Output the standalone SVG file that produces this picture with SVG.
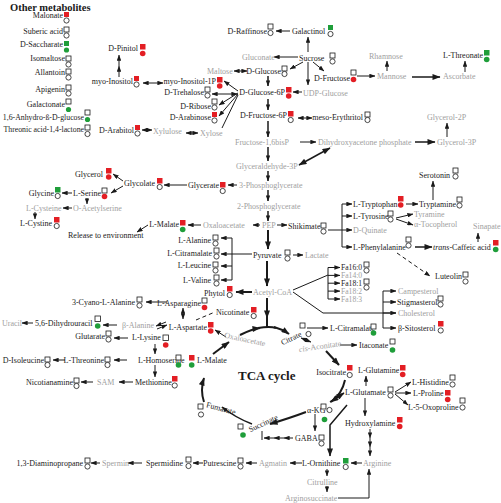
<svg xmlns="http://www.w3.org/2000/svg" width="501" height="503" viewBox="0 0 501 503">
<style>
text{font-family:"Liberation Serif","Times New Roman",serif;font-size:8px;fill:#1a1a1a}
.e{text-anchor:end}
.gy{fill:#a0a0a0}
.fa{font-size:7.6px}
.sq{fill:#fff;stroke:#1a1a1a;stroke-width:0.8}
.ci{fill:#fff;stroke:#1a1a1a;stroke-width:0.8}
.R{fill:#e31e24;stroke:none}
.G{fill:#1f9e3a;stroke:none}
.ln{stroke:#1a1a1a;stroke-width:1;fill:none}
.th{stroke-width:2}
.md{stroke-width:1.5}
.ds{stroke-dasharray:4 3}
.a{marker-end:url(#ah)}
.aa{marker-start:url(#ah);marker-end:url(#ah)}
.A{marker-end:url(#AH)}
.AA{marker-start:url(#AH);marker-end:url(#AH)}
</style>
<defs>
<marker id="ah" viewBox="0 0 8 6" refX="7.5" refY="3" markerWidth="6" markerHeight="4.5" markerUnits="userSpaceOnUse" orient="auto-start-reverse"><path d="M0,0 L8,3 L0,6 z" fill="#1a1a1a"/></marker>
<marker id="AH" viewBox="0 0 8 6" refX="7.5" refY="3" markerWidth="9" markerHeight="6" markerUnits="userSpaceOnUse" orient="auto-start-reverse"><path d="M0,0 L8,3 L0,6 z" fill="#1a1a1a"/></marker>
</defs>
<rect width="501" height="503" fill="#fff"/>

<text x="10" y="10.5" style="font-weight:bold;font-size:10.5px">Other metabolites</text>

<g id="connectors">
<line class="ln a" x1="290" y1="31" x2="276" y2="31"/>
<line class="ln a" x1="308" y1="52" x2="308" y2="37"/>
<line class="ln a" x1="298" y1="57" x2="274" y2="57"/>
<line class="ln aa" x1="234" y1="71" x2="247" y2="71"/>
<line class="ln a" x1="303" y1="62" x2="290" y2="69"/>
<line class="ln a" x1="308" y1="62" x2="308" y2="85"/>
<line class="ln a" x1="313" y1="62" x2="324" y2="71"/>
<line class="ln a" x1="302" y1="92" x2="293" y2="92"/>
<line class="ln md a" x1="268" y1="76" x2="268" y2="86"/>
<line class="ln md a" x1="268" y1="99" x2="268" y2="110"/>
<line class="ln md a" x1="268" y1="121" x2="268" y2="137"/>
<line class="ln aa" x1="298" y1="118" x2="312" y2="118"/>
<line class="ln a" x1="357" y1="76" x2="375" y2="76"/>
<line class="ln a" x1="387" y1="71" x2="387" y2="61"/>
<line class="ln md A" x1="412" y1="77" x2="440" y2="77"/>
<line class="ln a" x1="465" y1="72" x2="465" y2="61"/>
<line class="ln a" x1="238" y1="91" x2="224" y2="81"/>
<line class="ln aa" x1="237" y1="94" x2="212" y2="94"/>
<line class="ln a" x1="238" y1="93" x2="219" y2="105"/>
<line class="ln a" x1="238" y1="94" x2="219" y2="116"/>
<line class="ln" x1="238" y1="95" x2="222" y2="128"/>
<line class="ln aa" x1="143" y1="83" x2="163" y2="83"/>
<line class="ln a" x1="119" y1="77" x2="119" y2="66"/>
<line class="ln a" x1="119" y1="66" x2="119" y2="55"/>
<line class="ln aa" x1="142" y1="130" x2="152" y2="130"/>
<line class="ln aa" x1="186" y1="133" x2="198" y2="133"/>
<line class="ln md a" x1="268" y1="147" x2="268" y2="161"/>
<line class="ln a" x1="300" y1="142" x2="316" y2="142"/>
<line class="ln md AA" x1="299" y1="165" x2="330" y2="148"/>
<line class="ln md A" x1="415" y1="142" x2="435" y2="142"/>
<line class="ln a" x1="447" y1="137" x2="447" y2="123"/>
<line class="ln md a" x1="268" y1="171" x2="268" y2="181"/>
<line class="ln a" x1="237" y1="185" x2="228" y2="185"/>
<line class="ln a" x1="187" y1="185" x2="164" y2="185"/>
<line class="ln a" x1="123" y1="181" x2="113" y2="174"/>
<line class="ln a" x1="123" y1="186" x2="111" y2="193"/>
<line class="ln a" x1="72" y1="193" x2="62" y2="193"/>
<line class="ln a" x1="87" y1="198" x2="87" y2="204"/>
<line class="ln a" x1="72" y1="208" x2="63" y2="208"/>
<line class="ln a" x1="35" y1="212" x2="35" y2="219"/>
<line class="ln md a" x1="268" y1="190" x2="268" y2="201"/>
<line class="ln md a" x1="268" y1="211" x2="268" y2="221"/>
<line class="ln a" x1="260" y1="225" x2="253" y2="225"/>
<line class="ln a" x1="201" y1="225" x2="188" y2="225"/>
<line class="ln a" x1="148" y1="225" x2="137" y2="232"/>
<line class="ln a" x1="277" y1="225" x2="287" y2="225"/>
<path class="ln" d="M328,230 H342 M342,204 V247"/>
<line class="ln a" x1="342" y1="204" x2="352" y2="204"/>
<line class="ln a" x1="342" y1="216" x2="352" y2="216"/>
<line class="ln a" x1="342" y1="230" x2="352" y2="230"/>
<line class="ln a" x1="342" y1="247" x2="352" y2="247"/>
<line class="ln a" x1="406" y1="204" x2="418" y2="204"/>
<line class="ln a" x1="433" y1="200" x2="433" y2="181"/>
<line class="ln a" x1="396" y1="218" x2="413" y2="214"/>
<line class="ln a" x1="396" y1="219" x2="413" y2="225"/>
<line class="ln md A" x1="415" y1="247" x2="432" y2="247"/>
<line class="ln a" x1="478" y1="242" x2="478" y2="233"/>
<line class="ln ds a" x1="397" y1="253" x2="430" y2="276"/>
<line class="ln th A" x1="268" y1="230" x2="268" y2="249"/>
<line class="ln a" x1="293" y1="255" x2="303" y2="255"/>
<line class="ln a" x1="252" y1="254" x2="221" y2="254"/>
<path class="ln" d="M232,238 V280"/>
<line class="ln a" x1="232" y1="238" x2="221" y2="238"/>
<line class="ln a" x1="232" y1="266" x2="221" y2="266"/>
<line class="ln a" x1="232" y1="280" x2="221" y2="280"/>
<line class="ln th A" x1="267" y1="261" x2="267" y2="286"/>
<line class="ln th A" x1="252" y1="292" x2="236" y2="292"/>
<path class="ln" d="M293,290 L328,275 M328,267.5 V299 M293,292 L323,313 H396 M383,291 V328"/>
<line class="ln a" x1="328" y1="267.5" x2="340" y2="267.5"/>
<line class="ln a" x1="328" y1="275.4" x2="340" y2="275.4"/>
<line class="ln a" x1="328" y1="283.2" x2="340" y2="283.2"/>
<line class="ln a" x1="328" y1="291.1" x2="340" y2="291.1"/>
<line class="ln a" x1="328" y1="299" x2="340" y2="299"/>
<line class="ln a" x1="383" y1="291" x2="396" y2="291"/>
<line class="ln a" x1="383" y1="302" x2="396" y2="302"/>
<line class="ln a" x1="383" y1="313" x2="396" y2="313"/>
<line class="ln a" x1="383" y1="328" x2="396" y2="328"/>
<line class="ln th A" x1="267" y1="298" x2="267" y2="318"/>
<line class="ln th" x1="267" y1="315" x2="267" y2="327"/>
<path class="ln th A" d="M240,335 Q252,329 260,328"/>
<path class="ln th" d="M258,328 Q270,326 276,328"/>
<path class="ln th A" d="M274,327 Q282,329 289,334"/>
<line class="ln a" x1="307" y1="328" x2="328" y2="328"/>
<line class="ln aa" x1="301" y1="338" x2="311" y2="342"/>
<line class="ln a" x1="340" y1="345" x2="357" y2="345"/>
<line class="ln th A" x1="326" y1="351" x2="339" y2="365"/>
<path class="ln th A" d="M345,380 Q342,394 331,402"/>
<path class="ln th A" d="M306,412 Q290,418 270,424"/>
<path class="ln md a" d="M252,424 Q236,418 222,407"/>
<path class="ln th A" d="M204,402 Q200,390 204,378"/>
<line class="ln th A" x1="213" y1="354" x2="229" y2="342"/>
<line class="ln a" x1="226" y1="337" x2="215" y2="330"/>
<line class="ln aa" x1="183" y1="308" x2="183" y2="319"/>
<line class="ln a" x1="167" y1="302" x2="146" y2="302"/>
<line class="ln ds" x1="196" y1="320" x2="215" y2="312"/>
<line class="ln a" x1="166" y1="322" x2="156" y2="326"/>
<line class="ln a" x1="157" y1="329" x2="167" y2="325"/>
<line class="ln a" x1="117" y1="325" x2="103" y2="325"/>
<line class="ln a" x1="33" y1="323" x2="22" y2="323"/>
<line class="ln a" x1="128" y1="338" x2="114" y2="338"/>
<line class="ln a" x1="155" y1="344" x2="155" y2="354"/>
<line class="ln a" x1="127" y1="360" x2="114" y2="360"/>
<line class="ln a" x1="65" y1="360" x2="53" y2="360"/>
<line class="ln a" x1="155" y1="365" x2="155" y2="377"/>
<line class="ln a" x1="133" y1="382" x2="119" y2="382"/>
<line class="ln a" x1="93" y1="382" x2="81" y2="382"/>
<line class="ln md A" x1="330" y1="402" x2="344" y2="393"/>
<line class="ln a" x1="366" y1="386" x2="366" y2="376"/>
<line class="ln a" x1="395" y1="392" x2="411" y2="382"/>
<line class="ln a" x1="395" y1="393" x2="411" y2="393"/>
<line class="ln a" x1="395" y1="394" x2="408" y2="405"/>
<line class="ln a" x1="365" y1="398" x2="365" y2="416"/>
<line class="ln a" x1="370" y1="429" x2="370" y2="438"/>
<line class="ln a" x1="370" y1="438" x2="370" y2="447"/>
<line class="ln a" x1="370" y1="447" x2="370" y2="456"/>
<line class="ln a" x1="362" y1="463" x2="351" y2="463"/>
<path class="ln md A" d="M347,405 L330,425 V456"/>
<line class="ln a" x1="315" y1="414" x2="315" y2="431"/>
<line class="ln a" x1="293" y1="438" x2="284" y2="438"/>
<line class="ln a" x1="284" y1="438" x2="274" y2="438"/>
<line class="ln a" x1="274" y1="438" x2="264" y2="438"/>
<line class="ln" x1="262" y1="440" x2="262" y2="431"/>
<line class="ln a" x1="302" y1="463" x2="290" y2="463"/>
<line class="ln a" x1="257" y1="463" x2="246" y2="463"/>
<line class="ln a" x1="203" y1="463" x2="193" y2="463"/>
<line class="ln a" x1="142" y1="463" x2="128" y2="463"/>
<line class="ln a" x1="100" y1="463" x2="91" y2="463"/>
<line class="ln a" x1="327" y1="469" x2="327" y2="476"/>
<line class="ln a" x1="327" y1="486" x2="327" y2="492"/>
<path class="ln a" d="M338,498 H369 V469"/>
</g>

<g id="n-malonate"><text class="e" x="63" y="18">Malonate</text><rect class="sq R" x="64" y="12" width="5" height="5"/><circle class="ci" cx="66.5" cy="20.5" r="2.6"/></g>
<g id="n-suberic"><text class="e" x="63" y="34">Suberic acid</text><rect class="sq" x="64" y="27" width="5" height="5"/><circle class="ci" cx="66.5" cy="35.5" r="2.6"/></g>
<g id="n-saccharate"><text class="e" x="63" y="47">D-Saccharate</text><rect class="sq G" x="64" y="41" width="5" height="5"/><circle class="ci G" cx="66.5" cy="50" r="2.6"/></g>
<g id="n-isomaltose"><text class="e" x="65" y="61">Isomaltose</text><rect class="sq" x="66" y="56" width="5" height="5"/><circle class="ci" cx="68.5" cy="64.5" r="2.6"/></g>
<g id="n-allantoin"><text class="e" x="65" y="75">Allantoin</text><rect class="sq" x="66" y="69" width="5" height="5"/><circle class="ci" cx="68.5" cy="77.5" r="2.6"/></g>
<g id="n-apigenin"><text class="e" x="65" y="92">Apigenin</text><rect class="sq" x="66" y="85" width="5" height="5"/><circle class="ci" cx="68.5" cy="93.5" r="2.6"/></g>
<g id="n-galactonate"><text class="e" x="65" y="107">Galactonate</text><rect class="sq" x="66" y="99" width="5" height="5"/><circle class="ci G" cx="68.5" cy="109.5" r="2.6"/></g>
<g id="n-anhydro"><text class="e" x="84" y="120" style="font-size:7.8px">1,6-Anhydro-ß-D-glucose</text><rect class="sq" x="85" y="110" width="5" height="5"/><circle class="ci G" cx="87.5" cy="119.5" r="2.6"/></g>
<g id="n-threonic"><text class="e" x="84" y="132" style="font-size:7.8px">Threonic acid-1,4-lactone</text><rect class="sq" x="85" y="125" width="5" height="5"/><circle class="ci" cx="87.5" cy="134" r="2.6"/></g>

<g id="n-pinitol"><text class="e" x="138" y="51">D-Pinitol</text><rect class="sq R" x="140" y="44" width="5.5" height="5.5"/><circle class="ci R" cx="142.7" cy="53.5" r="2.8"/></g>
<g id="n-myoinositol"><text class="e" x="133" y="84">myo-Inositol</text><rect class="sq R" x="134" y="76" width="5" height="5"/><circle class="ci" cx="136.5" cy="84.5" r="2.6"/></g>
<g id="n-myoinositol1p"><text class="e" x="216" y="84">myo-Inositol-1P</text><rect class="sq R" x="217" y="77" width="5.5" height="5.5"/><circle class="ci R" cx="219.7" cy="86" r="2.8"/></g>
<g id="n-trehalose"><text class="e" x="204" y="95">D-Trehalose</text><rect class="sq" x="205" y="87" width="5" height="5"/><circle class="ci" cx="207.5" cy="95.5" r="2.6"/></g>
<g id="n-ribose"><text class="e" x="211" y="109">D-Ribose</text><rect class="sq" x="212" y="99" width="5" height="5"/><circle class="ci" cx="214.5" cy="107.5" r="2.6"/></g>
<g id="n-arabinose"><text class="e" x="211" y="120">D-Arabinose</text><rect class="sq R" x="212" y="112" width="5" height="5"/><circle class="ci" cx="214.5" cy="120.5" r="2.6"/></g>
<g id="n-arabitol"><text class="e" x="134" y="133">D-Arabitol</text><rect class="sq R" x="135" y="125" width="5" height="5"/><circle class="ci" cx="137.5" cy="133.5" r="2.6"/></g>
<g id="n-xylulose"><text class="gy" x="153" y="134">Xylulose</text></g>
<g id="n-xylose"><text class="gy" x="200" y="136">Xylose</text></g>
<g id="n-g6p"><text class="e" x="285" y="95">D-Glucose-6P</text><rect class="sq R" x="286" y="87" width="5.5" height="5.5"/><circle class="ci R" cx="288.7" cy="96" r="2.8"/></g>
<g id="n-f6p"><text class="e" x="287" y="118">D-Fructose-6P</text><rect class="sq R" x="288" y="111" width="5.5" height="5.5"/><circle class="ci" cx="290.7" cy="120" r="2.6"/></g>
<g id="n-erythritol"><text class="e" x="363" y="120">meso-Erythritol</text><rect class="sq" x="365" y="112" width="5" height="5"/><circle class="ci" cx="367.5" cy="120" r="2.6"/></g>
<g id="n-glucose"><text class="e" x="281" y="74">D-Glucose</text><rect class="sq" x="282" y="66" width="5" height="5"/><circle class="ci" cx="284.5" cy="74" r="2.6"/></g>
<g id="n-maltose"><text class="gy" x="207" y="74">Maltose</text></g>
<g id="n-raffinose"><text class="e" x="267" y="34">D-Raffinose</text><rect class="sq" x="268" y="24" width="5" height="5"/><circle class="ci" cx="270.5" cy="33" r="2.6"/></g>
<g id="n-galactinol"><text x="292" y="34">Galactinol</text><rect class="sq G" x="328" y="25" width="5" height="5"/><circle class="ci" cx="330.5" cy="34" r="2.6"/></g>
<g id="n-gluconate"><text class="gy" x="242" y="60">Gluconate</text></g>
<g id="n-sucrose"><text x="299" y="61">Sucrose</text><rect class="sq" x="330" y="53" width="5" height="5"/><circle class="ci" cx="332.5" cy="61.5" r="2.6"/></g>
<g id="n-udpg"><text class="gy" x="303" y="96">UDP-Glucose</text></g>
<g id="n-fructose"><text class="e" x="350" y="81">D-Fructose</text><rect class="sq" x="351" y="70" width="5" height="5"/><circle class="ci R" cx="353.5" cy="79.5" r="2.8"/></g>
<g id="n-rhamnose"><text class="gy" x="369" y="59">Rhamnose</text></g>
<g id="n-mannose"><text class="gy" x="377" y="79">Mannose</text></g>
<g id="n-ascorbate"><text class="gy" x="443" y="79">Ascorbate</text></g>
<g id="n-threonate"><text class="e" x="483" y="58">L-Threonate</text><rect class="sq G" x="484" y="50" width="5.5" height="5.5"/><circle class="ci G" cx="486.7" cy="59.5" r="2.8"/></g>
<g id="n-f16bp"><text class="gy" x="235" y="145">Fructose-1,6bisP</text></g>
<g id="n-dhap"><text class="gy" x="318" y="145">Dihydroxyacetone phosphate</text></g>
<g id="n-glycerol3p"><text class="gy" x="437" y="145">Glycerol-3P</text></g>
<g id="n-glycerol2p"><text class="gy" x="427" y="120">Glycerol-2P</text></g>
<g id="n-gap"><text class="gy" x="236" y="169">Glyceraldehyde-3P</text></g>
<g id="n-3pg"><text class="gy" x="239" y="188">3-Phosphoglycerate</text></g>
<g id="n-glycerate"><text class="e" x="219" y="188">Glycerate</text><rect class="sq R" x="220" y="182" width="5.5" height="5.5"/><circle class="ci" cx="222.7" cy="191" r="2.6"/></g>
<g id="n-glycolate"><text class="e" x="155" y="186">Glycolate</text><rect class="sq R" x="157" y="178" width="5.5" height="5.5"/><circle class="ci" cx="159.7" cy="187" r="2.6"/></g>
<g id="n-glycerol"><text class="e" x="103" y="177">Glycerol</text><rect class="sq R" x="106" y="168" width="5.5" height="5.5"/><circle class="ci R" cx="108.7" cy="177" r="2.8"/></g>
<g id="n-serine"><text class="e" x="101" y="196">L-Serine</text><rect class="sq" x="102" y="188" width="5" height="5"/><circle class="ci R" cx="104.5" cy="196.5" r="2.8"/></g>
<g id="n-glycine"><text class="e" x="54" y="196">Glycine</text><rect class="sq G" x="55" y="187" width="5.5" height="5.5"/><circle class="ci" cx="57.7" cy="196" r="2.6"/></g>
<g id="n-cysteine"><text class="gy" x="26" y="211">L-Cysteine</text></g>
<g id="n-oacetylserine"><text class="gy" x="73" y="211">O-Acetylserine</text></g>
<g id="n-cystine"><text class="e" x="52" y="226">L-Cystine</text><rect class="sq R" x="54" y="217" width="5.5" height="5.5"/><circle class="ci" cx="56.7" cy="226" r="2.6"/></g>
<g id="n-malate1"><text class="e" x="179" y="227">L-Malate</text><rect class="sq R" x="180" y="220" width="5.5" height="5.5"/><circle class="ci G" cx="182.7" cy="229.5" r="2.8"/></g>
<g id="n-release"><text x="68" y="238">Release to environment</text></g>
<g id="n-oaa1"><text class="gy" x="203" y="228">Oxaloacetate</text></g>
<g id="n-pep"><text class="gy" x="262" y="228">PEP</text></g>
<g id="n-2pg"><text class="gy" x="237" y="209">2-Phosphoglycerate</text></g>
<g id="n-shikimate"><text x="288" y="229">Shikimate</text><rect class="sq" x="321" y="223" width="5" height="5"/><circle class="ci" cx="323.5" cy="231.5" r="2.6"/></g>
<g id="n-tryptophan"><text x="353" y="207">L-Tryptophan</text><rect class="sq R" x="398" y="196" width="5.5" height="5.5"/><circle class="ci R" cx="400.7" cy="205" r="2.8"/></g>
<g id="n-tryptamine"><text x="419" y="207">Tryptamine</text><rect class="sq" x="457" y="197" width="5" height="5"/><circle class="ci" cx="459.5" cy="205.5" r="2.6"/></g>
<g id="n-serotonin"><text x="419" y="178">Serotonin</text><rect class="sq" x="453" y="168" width="5" height="5"/><circle class="ci" cx="455.5" cy="176.5" r="2.6"/></g>
<g id="n-tyrosine"><text x="353" y="219">L-Tyrosine</text><rect class="sq" x="388" y="211" width="5" height="5"/><circle class="ci" cx="390.5" cy="219.5" r="2.6"/></g>
<g id="n-tyramine"><text class="gy" x="414" y="217">Tyramine</text></g>
<g id="n-tocopherol"><text class="gy" x="414" y="227">α-Tocopherol</text></g>
<g id="n-quinate"><text class="gy" x="353" y="233">D-Quinate</text></g>
<g id="n-phenylalanine"><text x="353" y="250">L-Phenylalanine</text><rect class="sq" x="406" y="237" width="5" height="5"/><circle class="ci" cx="408.5" cy="245.5" r="2.6"/></g>
<g id="n-caffeic"><text x="433" y="250"><tspan font-style="italic">trans</tspan>-Caffeic acid</text><rect class="sq R" x="493" y="240" width="5.5" height="5.5"/><circle class="ci G" cx="495.7" cy="249.5" r="2.8"/></g>
<g id="n-sinapate"><text class="gy" x="473" y="229">Sinapate</text></g>
<g id="n-luteolin"><text x="435" y="279">Luteolin</text><rect class="sq" x="463" y="272" width="5" height="5"/><circle class="ci" cx="465.5" cy="281.5" r="2.6"/></g>
<g id="n-alanine"><text class="e" x="211" y="243">L-Alanine</text><rect class="sq" x="213" y="235" width="5" height="5"/><circle class="ci" cx="215.5" cy="243.5" r="2.6"/></g>
<g id="n-citramalate1"><text class="e" x="212" y="256">L-Citramalate</text><rect class="sq" x="214" y="248" width="5" height="5"/><circle class="ci" cx="216.5" cy="256.5" r="2.6"/></g>
<g id="n-pyruvate"><text x="253" y="258">Pyruvate</text><rect class="sq" x="285" y="250" width="5" height="5"/><circle class="ci" cx="287.5" cy="258.5" r="2.6"/></g>
<g id="n-lactate"><text class="gy" x="305" y="258">Lactate</text></g>
<g id="n-leucine"><text class="e" x="211" y="268">L-Leucine</text><rect class="sq" x="213" y="262" width="5" height="5"/><circle class="ci" cx="215.5" cy="270.5" r="2.6"/></g>
<g id="n-valine"><text class="e" x="211" y="283">L-Valine</text><rect class="sq" x="214" y="275" width="5" height="5"/><circle class="ci" cx="216.5" cy="283.5" r="2.6"/></g>
<g id="n-phytol"><text class="e" x="225" y="296">Phytol</text><rect class="sq R" x="227" y="286" width="5.5" height="5.5"/><circle class="ci" cx="229.7" cy="295" r="2.6"/></g>
<g id="n-acetylcoa"><text class="gy" x="253" y="295">Acetyl-CoA</text></g>
<g id="n-fa160"><text class="fa" x="341" y="270">Fa16:0</text><rect class="sq" x="364" y="262" width="5" height="5"/><circle class="ci" cx="366.5" cy="270.5" r="2.6"/></g>
<g id="n-fa140"><text class="fa gy" x="341" y="278">Fa14:0</text></g>
<g id="n-fa181"><text class="fa" x="341" y="286">Fa18:1</text><rect class="sq" x="364" y="279" width="5" height="5"/><circle class="ci" cx="366.5" cy="287.5" r="2.6"/></g>
<g id="n-fa182"><text class="fa gy" x="341" y="294">Fa18:2</text></g>
<g id="n-fa183"><text class="fa gy" x="341" y="302">Fa18:3</text></g>
<g id="n-campesterol"><text class="gy" x="398" y="294">Campesterol</text></g>
<g id="n-stigmasterol"><text x="397" y="305">Stigmasterol</text><rect class="sq" x="438" y="296" width="5" height="5"/><circle class="ci" cx="440.5" cy="304.5" r="2.6"/></g>
<g id="n-cholesterol"><text class="gy" x="398" y="316">Cholesterol</text></g>
<g id="n-sitosterol"><text x="398" y="331">β-Sitosterol</text><rect class="sq R" x="438" y="321" width="5.5" height="5.5"/><circle class="ci" cx="440.7" cy="330.5" r="2.6"/></g>
<g id="n-cyanoalanine"><text class="e" x="135" y="305">3-Cyano-L-Alanine</text><rect class="sq" x="137" y="297" width="5" height="5"/><circle class="ci" cx="139.5" cy="305.5" r="2.6"/></g>
<g id="n-asparagine"><text class="e" x="201" y="306">L-Asparagine</text><rect class="sq" x="202" y="298" width="5" height="5"/><circle class="ci R" cx="204.5" cy="307.5" r="2.8"/></g>
<g id="n-nicotinate"><text x="216" y="315">Nicotinate</text><rect class="sq R" x="251" y="307" width="5.5" height="5.5"/><circle class="ci" cx="253.7" cy="316" r="2.6"/></g>
<g id="n-aspartate"><text class="e" x="207" y="330">L-Aspartate</text><rect class="sq R" x="208" y="322" width="5.5" height="5.5"/><circle class="ci R" cx="210.7" cy="331" r="2.8"/></g>
<g id="n-uracil"><text class="gy" x="2" y="326">Uracil</text></g>
<g id="n-dhu"><text x="35" y="326">5,6-Dihydrouracil</text><rect class="sq" x="95" y="316" width="5.5" height="5.5"/><circle class="ci G" cx="97.7" cy="326" r="2.8"/></g>
<g id="n-balanine"><text class="gy" x="122" y="328">β-Alanine</text></g>
<g id="n-glutarate"><text class="e" x="105" y="339">Glutarate</text><rect class="sq" x="106" y="331" width="5" height="5"/><circle class="ci" cx="108.5" cy="339.5" r="2.6"/></g>
<g id="n-lysine"><text x="132" y="340">L-Lysine</text><rect class="sq" x="163" y="335" width="5.5" height="5.5"/><circle class="ci R" cx="165.7" cy="345" r="2.8"/></g>
<g id="n-homoserine"><text x="138" y="363">L-Homoserine</text><rect class="sq" x="176" y="355" width="5" height="5"/><circle class="ci G" cx="178.5" cy="365" r="2.8"/></g>
<g id="n-threonine"><text class="e" x="104" y="363">L-Threonine</text><rect class="sq" x="105" y="357" width="5" height="5"/><circle class="ci" cx="107.5" cy="365" r="2.6"/></g>
<g id="n-isoleucine"><text class="e" x="44" y="363">D-Isoleucine</text><rect class="sq" x="45" y="357" width="5" height="5"/><circle class="ci" cx="47.5" cy="365" r="2.6"/></g>
<g id="n-malate2"><text x="197" y="363">L-Malate</text><rect class="sq R" x="189" y="355" width="5.5" height="5.5"/><circle class="ci G" cx="191.7" cy="365" r="2.8"/></g>
<g id="n-nicotianamine"><text class="e" x="73" y="385">Nicotianamine</text><rect class="sq" x="74" y="378" width="5" height="5"/><circle class="ci" cx="76.5" cy="386" r="2.6"/></g>
<g id="n-sam"><text class="gy" x="97" y="385">SAM</text></g>
<g id="n-methionine"><text x="135" y="385">Methionine</text><rect class="sq R" x="172" y="376" width="5.5" height="5.5"/><circle class="ci" cx="174.7" cy="385.5" r="2.6"/></g>
<g id="n-tca"><text x="238" y="380" style="font-weight:bold;font-size:13px">TCA cycle</text></g>
<g id="n-oaa2"><text class="gy" x="245" y="342" text-anchor="middle" transform="rotate(12 245 339)">Oxaloacetate</text></g>
<g id="n-citrate"><text x="291" y="341" text-anchor="middle" transform="rotate(-25 291 338)">Citrate</text><rect class="sq" x="300" y="323" width="5" height="5"/><circle class="ci" cx="308.5" cy="334" r="2.6"/></g>
<g id="n-citramalate2"><text x="330" y="331">L-Citramalate</text><rect class="sq" x="371" y="324" width="5" height="5"/><circle class="ci G" cx="373.5" cy="333" r="2.8"/></g>
<g id="n-aconitate"><text class="gy" x="320" y="349" text-anchor="middle" transform="rotate(-8 320 346)"><tspan font-style="italic">cis</tspan>-Aconitate</text></g>
<g id="n-itaconate"><text x="359" y="348">Itaconate</text><rect class="sq" x="390" y="339" width="5" height="5"/><circle class="ci G" cx="392.5" cy="350" r="2.8"/></g>
<g id="n-isocitrate"><text class="e" x="346" y="375">Isocitrate</text><rect class="sq R" x="347" y="365" width="5.5" height="5.5"/><circle class="ci" cx="349.7" cy="375" r="2.6"/></g>
<g id="n-glutamine"><text x="358" y="373">L-Glutamine</text><rect class="sq R" x="400" y="365" width="5.5" height="5.5"/><circle class="ci R" cx="402.7" cy="374.5" r="2.8"/></g>
<g id="n-glutamate"><text x="345" y="395">L-Glutamate</text><rect class="sq" x="388" y="387" width="5" height="5"/><circle class="ci" cx="390.5" cy="395.5" r="2.6"/></g>
<g id="n-histidine"><text x="412" y="385">L-Histidine</text><rect class="sq" x="450" y="375" width="5" height="5"/><circle class="ci" cx="452.5" cy="384.5" r="2.6"/></g>
<g id="n-proline"><text x="413" y="396">L-Proline</text><rect class="sq R" x="445" y="390" width="5.5" height="5.5"/><circle class="ci R" cx="447.7" cy="399.5" r="2.8"/></g>
<g id="n-oxoproline"><text x="408" y="410">L-5-Oxoproline</text><rect class="sq" x="460" y="398" width="5" height="5"/><circle class="ci" cx="462.5" cy="407.5" r="2.6"/></g>
<g id="n-hydroxylamine"><text x="345" y="426">Hydroxylamine</text><rect class="sq R" x="397" y="417" width="5.5" height="5.5"/><circle class="ci R" cx="399.7" cy="426.5" r="2.8"/></g>
<g id="n-akg"><text x="307" y="413">α-KG</text><rect class="sq" x="321" y="404" width="5" height="5"/><circle class="ci" cx="329.5" cy="410" r="2.6"/><circle class="ci G" cx="324.5" cy="419.5" r="2.8"/></g>
<g id="n-gaba"><text x="295" y="441">GABA</text><rect class="sq" x="319" y="435" width="5" height="5"/><circle class="ci" cx="321.5" cy="443.5" r="2.6"/></g>
<g id="n-succinate"><text x="263" y="426" text-anchor="middle" transform="rotate(-25 263 423)">Succinate</text><rect class="sq" x="238" y="424" width="5" height="5"/><circle class="ci G" cx="243" cy="435" r="2.8"/></g>
<g id="n-fumarate"><text x="221" y="411" text-anchor="middle" transform="rotate(15 221 408)">Fumarate</text><rect class="sq" x="198" y="404" width="5" height="5"/><circle class="ci" cx="201" cy="414.5" r="2.6"/></g>
<g id="n-arginine"><text class="gy" x="363" y="466">Arginine</text></g>
<g id="n-ornithine"><text x="302" y="466">L-Ornithine</text><rect class="sq G" x="343" y="458" width="5.5" height="5.5"/><circle class="ci" cx="345.7" cy="467" r="2.6"/></g>
<g id="n-agmatin"><text class="gy" x="259" y="466">Agmatin</text></g>
<g id="n-putrescine"><text x="203" y="466">Putrescine</text><rect class="sq" x="238" y="458" width="5" height="5"/><circle class="ci" cx="240.5" cy="466.5" r="2.6"/></g>
<g id="n-spermidine"><text class="e" x="183" y="466">Spermidine</text><rect class="sq" x="186" y="457" width="5" height="5"/><circle class="ci" cx="188.5" cy="466" r="2.6"/></g>
<g id="n-spermin"><text class="gy" x="102" y="466">Spermin</text></g>
<g id="n-diaminopropane"><text class="e" x="83" y="466">1,3-Diaminopropane</text><rect class="sq" x="85" y="458" width="5" height="5"/><circle class="ci" cx="87.5" cy="466.5" r="2.6"/></g>
<g id="n-citrulline"><text class="gy" x="307" y="485">Citrulline</text></g>
<g id="n-arginosuccinate"><text class="gy" x="285" y="501">Arginosuccinate</text></g>
</svg>
